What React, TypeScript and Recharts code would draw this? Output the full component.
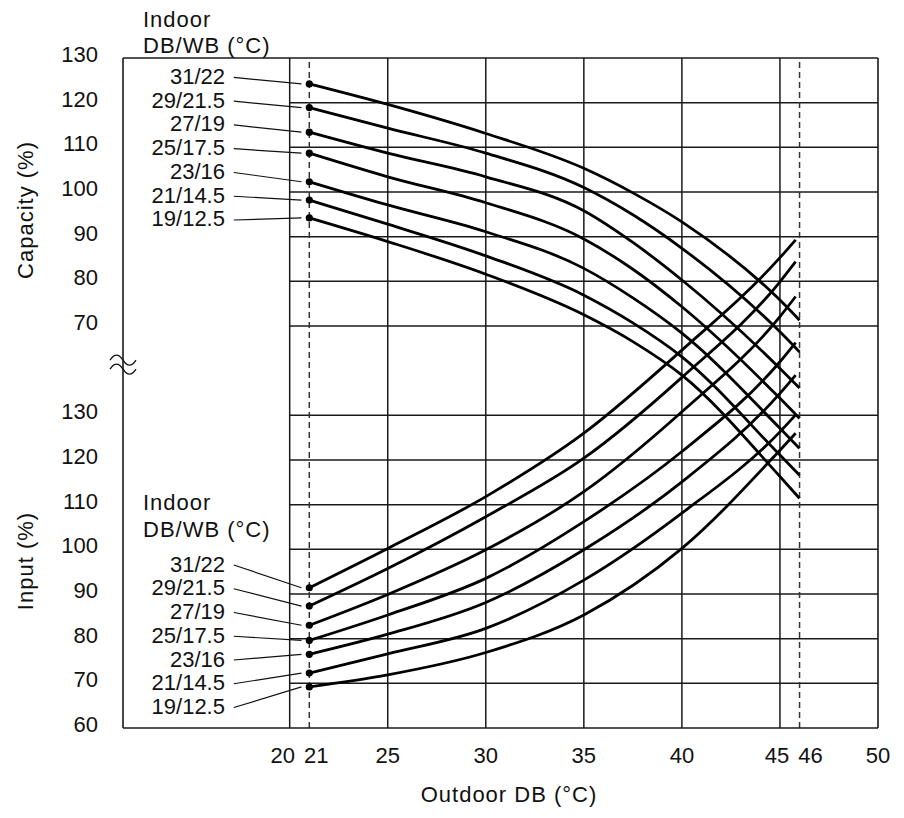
import { Line, LineChart, ReferenceDot, ReferenceLine, XAxis, YAxis } from "recharts";

const FONT = '"Liberation Sans", Arial, Helvetica, sans-serif';

// indoor DB/WB conditions, top curve first
const indoorConditions = ["31/22", "29/21.5", "27/19", "25/17.5", "23/16", "21/14.5", "19/12.5"];

const outdoorTicks = [20, 21, 25, 30, 35, 40, 45, 46, 50];
const gridX = [20, 25, 30, 35, 40, 45];
const dashedX = [21, 46];
const capacityTicks = [70, 80, 90, 100, 110, 120, 130];
const inputTicks = [60, 70, 80, 90, 100, 110, 120, 130];

// capacity (%) vs outdoor DB
const capacityX = [21, 25, 30, 35, 37.5, 40, 45, 46];
const cap3122 = [124.2, 119.6, 113.1, 105.3, 99.8, 93.3, 75.8, 71.3];
const cap29215 = [118.9, 114.3, 108.7, 101.0, 94.9, 87.4, 68.7, 64.2];
const cap2719 = [113.4, 108.7, 103.4, 95.8, 88.7, 80.3, 60.5, 56.1];
const cap25175 = [108.7, 103.4, 97.6, 89.5, 82.7, 74.3, 53.8, 49.3];
const cap2316 = [102.3, 97.1, 91.1, 82.9, 76.3, 68.4, 47.1, 42.6];
const cap21145 = [98.2, 92.8, 85.7, 76.9, 70.7, 63.1, 41.1, 36.6];
const cap19125 = [94.2, 88.9, 81.6, 72.5, 66.5, 59.0, 36.3, 31.4];

// input (%) vs outdoor DB
const inputX = [21, 25, 30, 35, 40, 45, 45.8];
const inp3122 = [91.4, 100.2, 111.8, 126.0, 144.6, 165.3, 169.3];
const inp29215 = [87.3, 95.7, 107.3, 120.4, 138.5, 159.9, 164.4];
const inp2719 = [83.0, 89.9, 99.9, 112.9, 130.8, 152.1, 156.6];
const inp25175 = [79.6, 85.3, 93.5, 106.2, 121.9, 142.0, 146.3];
const inp2316 = [76.5, 81.0, 88.1, 99.9, 115.1, 134.9, 139.0];
const inp21145 = [72.3, 76.6, 82.3, 93.1, 108.1, 126.3, 130.1];
const inp19125 = [69.2, 71.9, 76.9, 85.3, 100.2, 122.2, 126.0];

const capacityCurves = [cap3122, cap29215, cap2719, cap25175, cap2316, cap21145, cap19125];
const inputCurves = [inp3122, inp29215, inp2719, inp25175, inp2316, inp21145, inp19125];

// both panels share one y scale: input 60..130 -> 0..70, break, capacity 70..130 -> 90..150
const fromInput = (v: number) => v - 60;
const fromCapacity = (c: number) => c + 20;
const tickText = (u: number) => (u <= 70 ? u + 60 : u - 20);

const yTicks = [...inputTicks.map(fromInput), ...capacityTicks.map(fromCapacity)];
const hGrid = yTicks.filter((u) => u > 0 && u < 150);

const capacitySeries = capacityCurves.map((vals, i) => ({
  name: indoorConditions[i],
  points: capacityX.map((x, j) => ({ x, y: fromCapacity(vals[j]) })),
}));
const inputSeries = inputCurves.map((vals, i) => ({
  name: indoorConditions[i],
  points: inputX.map((x, j) => ({ x, y: fromInput(vals[j]) })),
}));

// label column layout (shared-axis units)
const LABEL_X = 16.7;
const LEADER_X0 = 17.15;
const LEADER_X1 = 20.6;
const capLabelTop = 146.0;
const inputLabelTop = 36.8;
const labelStep = 5.32;

const xLabelShift: Record<number, number> = { 20: -7, 21: 7, 45: -3, 46: 11 };

const XTick = (props: any) => {
  const { x, y, payload } = props;
  const v = payload.value as number;
  return (
    <text x={x + (xLabelShift[v] || 0)} y={y} dy="0.36em" textAnchor="middle" fontSize={22} fontFamily={FONT} fill="#111">
      {v}
    </text>
  );
};

const YTick = (props: any) => {
  const { x, y, payload } = props;
  return (
    <text x={x} y={y - 4} dy="0.36em" textAnchor="end" fontSize={22} fontFamily={FONT} fill="#111">
      {tickText(payload.value)}
    </text>
  );
};

const firstDot = (props: any) => {
  const { cx, cy, index, key } = props;
  if (index !== 0) return <g key={key ?? `d${index}`} />;
  return <circle key={key ?? `d${index}`} cx={cx} cy={cy} r={3.6} fill="#000" />;
};

const seriesLabel = (text: string) => (p: any) => (
  <text x={p.cx} y={p.cy} dy="0.36em" textAnchor="end" fontSize={22} fontFamily={FONT} fill="#111">
    {text}
  </text>
);

const breakMark = (p: any) => (
  <g>
    {[-4.5, 4.5].map((d) => (
      <path
        key={d}
        d={`M ${p.cx - 13} ${p.cy - 6 + d} q 6.5 -10 13 0 t 13 0`}
        fill="none"
        stroke="#111"
        strokeWidth={1.3}
      />
    ))}
  </g>
);

const GRID = "#1a1a1a";

export default function App() {
  return (
    <div style={{ position: "relative", width: 896, height: 810, fontFamily: FONT }}>
      <LineChart width={896} height={810} margin={{ top: 50, right: 26, bottom: 60, left: 55 }}>
        <XAxis
          type="number"
          dataKey="x"
          domain={[11.5, 50]}
          ticks={outdoorTicks}
          interval={0}
          tick={<XTick />}
          tickLine={false}
          tickSize={0}
          tickMargin={27}
          axisLine={{ stroke: GRID, strokeWidth: 1.6 }}
          height={30}
          allowDataOverflow
        />
        <YAxis
          type="number"
          domain={[0, 150]}
          ticks={yTicks}
          interval={0}
          tick={<YTick />}
          tickLine={false}
          tickSize={0}
          tickMargin={25}
          axisLine={{ stroke: GRID, strokeWidth: 1.6 }}
          width={60}
          allowDataOverflow
        />

        {gridX.map((x) => (
          <ReferenceLine key={`gx${x}`} x={x} stroke={GRID} strokeWidth={1.5} ifOverflow="visible" />
        ))}
        <ReferenceLine x={50} stroke={GRID} strokeWidth={1.6} ifOverflow="visible" />
        <ReferenceLine y={150} stroke={GRID} strokeWidth={1.6} ifOverflow="visible" />
        {hGrid.map((u) => (
          <ReferenceLine
            key={`gy${u}`}
            segment={[
              { x: 20, y: u },
              { x: 50, y: u },
            ]}
            stroke={GRID}
            strokeWidth={1.5}
            ifOverflow="visible"
          />
        ))}
        {dashedX.map((x) => (
          <ReferenceLine key={`dx${x}`} x={x} stroke="#333" strokeWidth={1.5} strokeDasharray="6 4" ifOverflow="visible" />
        ))}

        {capacitySeries.map((s, i) => (
          <ReferenceLine
            key={`cl${s.name}`}
            segment={[
              { x: LEADER_X0, y: capLabelTop - i * labelStep - 0.35 },
              { x: LEADER_X1, y: s.points[0].y },
            ]}
            stroke="#111"
            strokeWidth={1.2}
            ifOverflow="visible"
          />
        ))}
        {inputSeries.map((s, i) => (
          <ReferenceLine
            key={`il${s.name}`}
            segment={[
              { x: LEADER_X0, y: inputLabelTop - i * labelStep - 0.3 },
              { x: LEADER_X1, y: s.points[0].y },
            ]}
            stroke="#111"
            strokeWidth={1.2}
            ifOverflow="visible"
          />
        ))}

        {capacitySeries.map((s) => (
          <Line
            key={`cap${s.name}`}
            data={s.points}
            dataKey="y"
            type="monotone"
            stroke="#000"
            strokeWidth={2.8}
            dot={firstDot}
            activeDot={false}
            isAnimationActive={false}
          />
        ))}
        {inputSeries.map((s) => (
          <Line
            key={`inp${s.name}`}
            data={s.points}
            dataKey="y"
            type="monotone"
            stroke="#000"
            strokeWidth={2.8}
            dot={firstDot}
            activeDot={false}
            isAnimationActive={false}
          />
        ))}

        {capacitySeries.map((s, i) => (
          <ReferenceDot
            key={`ct${s.name}`}
            x={LABEL_X}
            y={capLabelTop - i * labelStep}
            r={0}
            ifOverflow="visible"
            shape={seriesLabel(s.name)}
          />
        ))}
        {inputSeries.map((s, i) => (
          <ReferenceDot
            key={`it${s.name}`}
            x={LABEL_X}
            y={inputLabelTop - i * labelStep}
            r={0}
            ifOverflow="visible"
            shape={seriesLabel(s.name)}
          />
        ))}
        <ReferenceDot x={11.5} y={80} r={0} ifOverflow="visible" shape={breakMark} />
      </LineChart>

      <svg
        width={896}
        height={810}
        style={{ position: "absolute", left: 0, top: 0, pointerEvents: "none", overflow: "visible" }}
        fontFamily={FONT}
        fontSize={22}
        fill="#111"
      >
        <text x={135} y={19} letterSpacing={1}>Indoor</text>
        <text x={135} y={45} letterSpacing={1}>DB/WB (°C)</text>
        <text x={135} y={502} letterSpacing={1}>Indoor</text>
        <text x={135} y={528.7} letterSpacing={1}>DB/WB (°C)</text>
        <text
          x={17}
          y={202}
          textAnchor="middle"
          dominantBaseline="central"
          letterSpacing={1}
          transform="rotate(-90 17 202)"
        >
          Capacity (%)
        </text>
        <text
          x={17}
          y={553}
          textAnchor="middle"
          dominantBaseline="central"
          letterSpacing={1}
          transform="rotate(-90 17 553)"
        >
          Input (%)
        </text>
        <text x={501} y={793.7} textAnchor="middle" letterSpacing={1}>
          Outdoor DB (°C)
        </text>
      </svg>
    </div>
  );
}
